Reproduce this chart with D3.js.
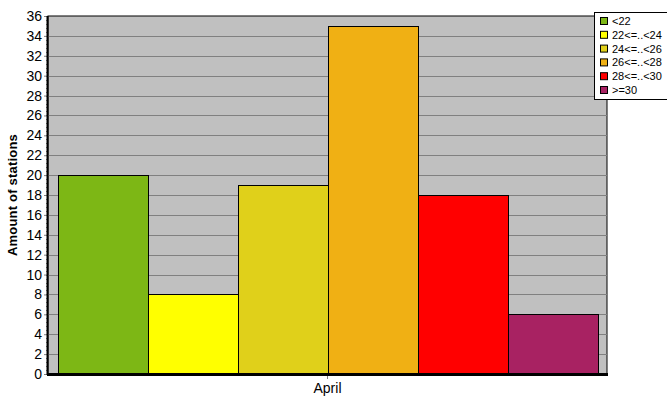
<!DOCTYPE html>
<html>
<head>
<meta charset="utf-8">
<script src="https://cdn.jsdelivr.net/npm/d3@7"></script>
<style>
  body { margin: 0; background: #fff; }
  text { font-family: Arial, "Liberation Sans", sans-serif; }
</style>
</head>
<body>
<svg id="chart" width="667" height="415"></svg>
<script>
// data
var months = ["April"];
var classes = ["<22", "22<=..<24", "24<=..<26", "26<=..<28", "28<=..<30", ">=30"];
var counts = [20, 8, 19, 35, 18, 6];
var colors = ["#7db715", "#ffff00", "#e0d01a", "#f0b014", "#ff0000", "#a82262"];
var yTicks = d3.range(0, 37, 2);

var margin = {top: 16, right: 60, bottom: 41, left: 48},
    width = 667 - margin.left - margin.right,
    height = 415 - margin.top - margin.bottom;

var svg = d3.select("#chart")
  .append("g")
    .attr("transform", "translate(" + margin.left + "," + margin.top + ")");

var x0 = d3.scaleBand()
  .domain(months)
  .range([0, width])
  .paddingOuter(10 / width);

var x1 = d3.scaleBand()
  .domain(classes)
  .range([10, width - 9]);

var y = d3.scaleLinear()
  .domain([0, 36])
  .range([height, 0]);

// plot background
svg.append("rect")
  .attr("width", width)
  .attr("height", height)
  .attr("fill", "#c0c0c0")
  .attr("stroke", "#000")
  .attr("stroke-width", 1);

// grid lines
svg.selectAll(".grid")
  .data(yTicks.slice(1, -1))
  .enter()
  .append("line")
    .attr("x1", 0)
    .attr("x2", width)
    .attr("y1", function(d) { return Math.round(y(d)) + 0.5; })
    .attr("y2", function(d) { return Math.round(y(d)) + 0.5; })
    .attr("stroke", "#808080")
    .attr("stroke-width", 1);

// bars
svg.selectAll(".bar")
  .data(counts)
  .enter()
  .append("rect")
    .attr("x", function(d, i) { return x1(classes[i]) + 0.5; })
    .attr("y", function(d) { return Math.round(y(d)) + 0.5; })
    .attr("width", x1.bandwidth())
    .attr("height", function(d) { return height - Math.round(y(d)); })
    .attr("fill", function(d, i) { return colors[i]; })
    .attr("stroke", "#000")
    .attr("stroke-width", 1);

// minor ticks on left axis
svg.selectAll(".minor")
  .data(d3.range(0, 36.01, 0.4))
  .enter()
  .append("line")
    .attr("x1", -2)
    .attr("x2", 0)
    .attr("y1", function(d) { return Math.round(y(d)) + 0.5; })
    .attr("y2", function(d) { return Math.round(y(d)) + 0.5; })
    .attr("stroke", "#808080");

// y axis
var yAxis = svg.append("g")
  .call(d3.axisLeft(y).tickValues(yTicks).tickSize(4).tickPadding(2).tickFormat(d3.format("d")));
yAxis.select(".domain").remove();
yAxis.selectAll(".tick line").attr("stroke", "#808080");
yAxis.selectAll("text")
  .style("font-size", "14px")
  .attr("fill", "#000");

svg.append("line")
  .attr("x1", -0.5).attr("x2", -0.5)
  .attr("y1", 0).attr("y2", height + 1)
  .attr("stroke", "#000").attr("stroke-width", 2);

// x axis
var xAxis = svg.append("g")
  .attr("transform", "translate(0," + height + ")")
  .call(d3.axisBottom(x0).tickSize(5).tickPadding(4));
xAxis.select(".domain").remove();
xAxis.selectAll(".tick line").attr("stroke", "#808080");
xAxis.selectAll("text")
  .style("font-size", "14px")
  .attr("fill", "#000");

svg.append("line")
  .attr("x1", -1).attr("x2", width + 1)
  .attr("y1", height + 0.5).attr("y2", height + 0.5)
  .attr("stroke", "#000").attr("stroke-width", 3);

// y axis title
svg.append("text")
  .attr("transform", "translate(" + (-31) + "," + (height / 2) + ") rotate(-90)")
  .attr("text-anchor", "middle")
  .style("font-size", "13px")
  .style("font-weight", "bold")
  .style("letter-spacing", "0.2px")
  .text("Amount of stations");

// legend
var legend = d3.select("#chart").append("g")
  .attr("transform", "translate(594,12)");

legend.append("rect")
  .attr("x", 0.5).attr("y", 0.5)
  .attr("width", 80).attr("height", 87)
  .attr("fill", "#fff")
  .attr("stroke", "#000");

var item = legend.selectAll(".item")
  .data(classes)
  .enter()
  .append("g")
    .attr("transform", function(d, i) { return "translate(0," + (9 + i * 13.8) + ")"; });

item.append("rect")
  .attr("x", 6.5).attr("y", -3.5)
  .attr("width", 7).attr("height", 7)
  .attr("fill", function(d, i) { return colors[i]; })
  .attr("stroke", "#000");

item.append("text")
  .attr("x", 18)
  .attr("y", 4)
  .style("font-size", "11px")
  .text(function(d) { return d; });
</script>
</body>
</html>
